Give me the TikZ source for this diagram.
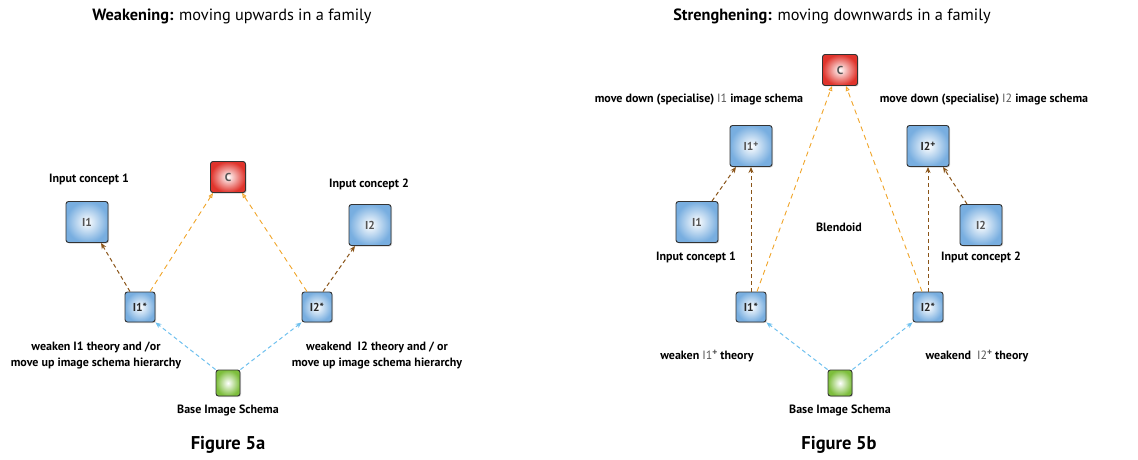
\documentclass[tikz,border=0pt]{standalone}
\usepackage{fontspec}
\setmainfont{PT Sans}
\usetikzlibrary{arrows.meta,shadows}
\definecolor{nodeblue}{HTML}{78AEE0}
\definecolor{nodered}{HTML}{E0342C}
\definecolor{nodegreen}{HTML}{7DBE3C}
\definecolor{brownarr}{HTML}{8A5418}
\definecolor{orangearr}{HTML}{F0A428}
\definecolor{bluearr}{HTML}{6EC0EE}
\definecolor{txtgray}{HTML}{555555}
\tikzset{
  box/.style={draw=black!80, line width=0.9pt, rounded corners=2.5pt, inner sep=0pt,
    drop shadow={shadow xshift=1pt, shadow yshift=-1pt, opacity=0.35},
    font=\fontsize{11.5}{13}\selectfont\bfseries, text=txtgray},
  bluebig/.style={box, shading=radial, inner color=white, outer color=nodeblue, minimum width=42pt, minimum height=41pt},
  bluesmall/.style={box, shading=radial, inner color=white, outer color=nodeblue, minimum width=30pt, minimum height=30pt, text=black!85},
  redbox/.style={box, shading=radial, inner color=white, outer color=nodered, minimum width=35pt, minimum height=31pt},
  greenbox/.style={box, shading=radial, inner color=white, outer color=nodegreen, minimum width=24pt, minimum height=26pt},
  lbl/.style={font=\fontsize{12}{16}\selectfont\bfseries, align=center, inner sep=0pt},
  ttl/.style={font=\fontsize{16.3}{18}\selectfont, inner sep=0pt},
  fig/.style={font=\fontsize{18.5}{20}\selectfont\bfseries, inner sep=0pt},
  brn/.style={draw=brownarr, line width=1pt, dash pattern=on 4pt off 3pt, -{Stealth[length=6pt,width=5pt]}},
  org/.style={draw=orangearr, line width=0.9pt, dash pattern=on 5pt off 4pt, -{Triangle[open,length=5pt,width=4pt]}},
  blu/.style={draw=bluearr, line width=1pt, dash pattern=on 4pt off 3pt, -{Stealth[length=6pt,width=5pt]}},
}
\newcommand{\plussup}{\raisebox{0.55ex}{\fontsize{9.5}{10}\selectfont\bfseries +}}
\begin{document}
\begin{tikzpicture}[x=1pt,y=-1pt]
\useasboundingbox (0,0) rectangle (1138,460);
% ===== Left panel =====
\node[ttl] (t1) at (232,16) {\textbf{Weakening:} moving upwards in a family};
\node[redbox] (C1) at (228,177) {C};
\node[bluebig] (I1a) at (87,222) {I1};
\node[bluebig] (I2a) at (370,225) {I2};
\node[bluesmall] (I1sa) at (140,307) {I1*};
\node[bluesmall] (I2sa) at (317,307) {I2*};
\node[greenbox] (Ba) at (228,383) {};
\node[lbl] (ic1a) at (89,179) {Input concept 1};
\node[lbl] (ic2a) at (369,184) {Input concept 2};
\node[lbl] (wa1) at (96,355) {weaken I1 theory and /or\\move up image schema hierarchy};
\node[lbl] (wa2) at (377,355) {weakend\ \ I2 theory and / or\\move up image schema hierarchy};
\node[lbl] (bla) at (228,410) {Base Image Schema};
\node[fig] (f5a) at (228,445) {Figure 5a};
\draw[brn] ([xshift=-10pt]I1sa.north) -- ([xshift=14pt]I1a.south);
\draw[org] ([xshift=10pt]I1sa.north) -- ([xshift=-15pt]C1.south);
\draw[org] ([xshift=-10pt]I2sa.north) -- ([xshift=14pt]C1.south);
\draw[brn] ([xshift=6pt]I2sa.north) -- ([xshift=-15pt]I2a.south);
\draw[blu] (Ba.north west) -- (I1sa.south east);
\draw[blu] (Ba.north east) -- (I2sa.south west);
% ===== Right panel =====
\node[ttl] (t2) at (832,16) {\textbf{Strenghening:} moving downwards in a family};
\node[redbox] (C2) at (840,70) {C};
\node[lbl] (md1) at (699,100) {move down (specialise) {\mdseries\color{txtgray}I1} image schema};
\node[lbl] (md2) at (984,100) {move down (specialise) {\mdseries\color{txtgray}I2} image schema};
\node[bluebig] (I1p) at (751,146) {I1\plussup};
\node[bluebig, text=black!85] (I2p) at (928,146) {I2\plussup};
\node[bluebig] (I1b) at (697,222) {I1};
\node[bluebig] (I2b) at (981,225) {I2};
\node[lbl] (bld) at (839,227) {Blendoid};
\node[lbl] (ic1b) at (696,257) {Input concept 1};
\node[lbl] (ic2b) at (981,257) {Input concept 2};
\node[bluesmall] (I1sb) at (751,307) {I1*};
\node[bluesmall] (I2sb) at (928,307) {I2*};
\node[greenbox] (Bb) at (840,383) {};
\node[lbl] (wb1) at (707,356) {weaken {\mdseries\color{txtgray}I1\plussup} theory};
\node[lbl] (wb2) at (977,356) {weakend\ \ {\mdseries\color{txtgray}I2\plussup} theory};
\node[lbl] (blb) at (840,410) {Base Image Schema};
\node[fig] (f5b) at (839,445) {Figure 5b};
\draw[brn] ([xshift=15pt]I1b.north) -- ([xshift=-15pt]I1p.south);
\draw[brn] (I1sb.north) -- (I1p.south);
\draw[org] ([xshift=6pt]I1sb.north) -- ([xshift=-8pt]C2.south);
\draw[org] ([xshift=-6pt]I2sb.north) -- ([xshift=6pt]C2.south);
\draw[brn] (I2sb.north) -- (I2p.south);
\draw[brn] ([xshift=-14pt]I2b.north) -- ([xshift=15pt]I2p.south);
\draw[blu] (Bb.north west) -- (I1sb.south east);
\draw[blu] (Bb.north east) -- (I2sb.south west);
\end{tikzpicture}
\end{document}
